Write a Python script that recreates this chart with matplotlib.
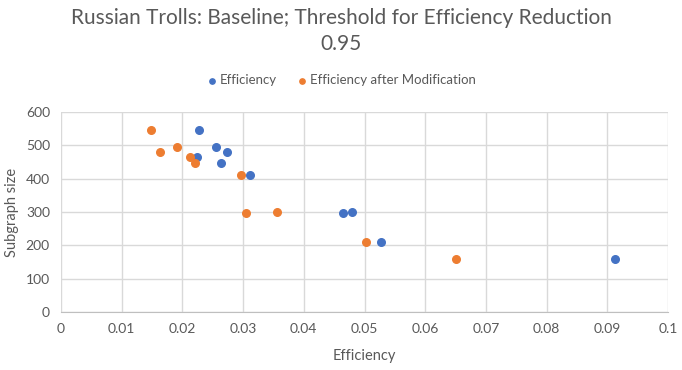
import matplotlib.pyplot as plt

# datos
subgraph = [545, 479, 495, 465, 447, 410, 296, 299, 209, 158]
eff = [0.0228, 0.0274, 0.0256, 0.0224, 0.0264, 0.0312, 0.0464, 0.0479, 0.0528, 0.0912]
eff_mod = [0.0149, 0.0163, 0.0191, 0.0212, 0.0220, 0.0297, 0.0304, 0.0356, 0.0502, 0.0651]

xticks = [0, 0.01, 0.02, 0.03, 0.04, 0.05, 0.06, 0.07, 0.08, 0.09, 0.1]
xlabels = ['0', '0.01', '0.02', '0.03', '0.04', '0.05', '0.06', '0.07', '0.08', '0.09', '0.1']
yticks = [0, 100, 200, 300, 400, 500, 600]

plt.rcParams['font.family'] = ['Lato', 'DejaVu Sans']
gris = '#595959'

fig = plt.figure(figsize=(6.82, 3.70), dpi=100)
ax = fig.add_axes([61/682, 1-312/370, 607/682, 200/370])

ax.scatter(eff, subgraph, s=30, color='#4472C4', label='Efficiency', zorder=3)
ax.scatter(eff_mod, subgraph, s=30, color='#ED7D31', label='Efficiency after Modification', zorder=3)

ax.set_xlim(0, 0.1)
ax.set_ylim(0, 600)
ax.set_xticks(xticks)
ax.set_xticklabels(xlabels)
ax.set_yticks(yticks)
ax.grid(True, color='#d9d9d9', linewidth=1)
ax.set_axisbelow(True)
for s in ['top', 'right', 'left']:
    ax.spines[s].set_visible(False)
ax.spines['bottom'].set_color('#bfbfbf')
ax.tick_params(length=0, colors=gris, labelsize=10, pad=8)

ax.set_xlabel('Efficiency', color=gris, fontsize=10.5, labelpad=10)
ax.set_ylabel('Subgraph size', color=gris, fontsize=10.5, labelpad=5)

fig.text(0.5, 1-18/370, 'Russian Trolls: Baseline; Threshold for Efficiency Reduction', ha='center', va='center', color=gris, fontsize=15)
fig.text(0.5, 1-44/370, '0.95', ha='center', va='center', color=gris, fontsize=15)

fig.legend(loc='center', bbox_to_anchor=(0.5, 1-80/370), ncol=2, frameon=False, fontsize=9.5,
           labelcolor=gris, markerscale=0.7, handlelength=0.8, handletextpad=0.2, columnspacing=1.5)

plt.savefig('out.png', dpi=100)
